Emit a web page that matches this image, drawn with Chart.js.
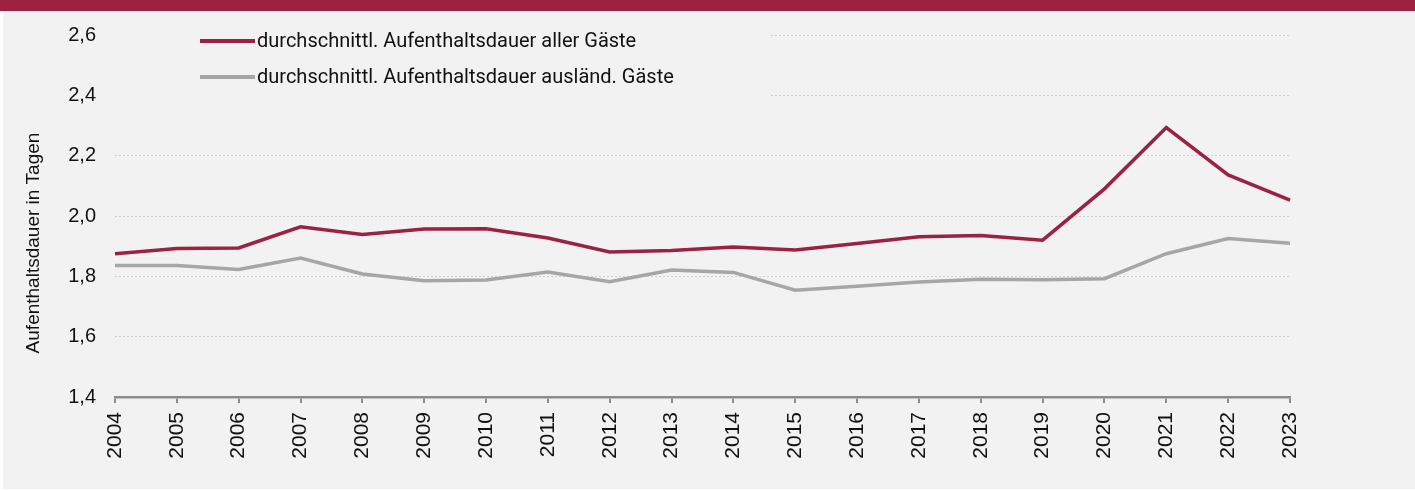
<!DOCTYPE html>
<html>
<head>
<meta charset="utf-8">
<script src="https://cdn.jsdelivr.net/npm/chart.js@4.4.1/dist/chart.umd.min.js"></script>
<style>
html,body{margin:0;padding:0;background:#fff;}
canvas{display:block;}
</style>
</head>
<body>
<canvas id="c" width="1415" height="490"></canvas>
<script>
const years = ['2004','2005','2006','2007','2008','2009','2010','2011','2012','2013','2014','2015','2016','2017','2018','2019','2020','2021','2022','2023'];
const allGuests = [1.875,1.892,1.894,1.964,1.939,1.957,1.958,1.927,1.881,1.886,1.897,1.887,1.909,1.931,1.935,1.920,2.090,2.293,2.136,2.053];
const foreignGuests = [1.836,1.836,1.823,1.861,1.808,1.785,1.788,1.814,1.782,1.821,1.813,1.754,1.767,1.781,1.790,1.789,1.792,1.875,1.925,1.910];
const seriesLabels = ['durchschnittl. Aufenthaltsdauer aller Gäste','durchschnittl. Aufenthaltsdauer ausländ. Gäste'];
const yTickLabels = ['1,4','1,6','1,8','2,0','2,2','2,4','2,6'];
const yTitle = 'Aufenthaltsdauer in Tagen';

const RED = '#9b2240';
const GRAY = '#a6a6a6';

const bgPlugin = {
  id: 'bg',
  beforeDraw(chart) {
    const ctx = chart.ctx;
    ctx.save();
    ctx.fillStyle = '#ffffff';
    ctx.fillRect(0, 0, chart.width, chart.height);
    ctx.fillStyle = '#f2f2f2';
    ctx.fillRect(3, 11, chart.width - 3, 478);
    ctx.fillStyle = RED;
    ctx.fillRect(0, 0, chart.width, 11);
    ctx.restore();
  }
};

const legendPlugin = {
  id: 'insideLegend',
  beforeDatasetsDraw(chart) {
    const ctx = chart.ctx;
    ctx.save();
    ctx.fillStyle = '#f2f2f2';
    ctx.fillRect(chart.chartArea.left - 2, 20, 770 - chart.chartArea.left + 2, 86);
    const rows = [41, 77];
    chart.data.datasets.forEach((ds, i) => {
      const y = rows[i];
      ctx.strokeStyle = ds.borderColor;
      ctx.lineWidth = 4;
      ctx.lineCap = 'butt';
      ctx.beginPath();
      ctx.moveTo(200, y);
      ctx.lineTo(255, y);
      ctx.stroke();
      ctx.fillStyle = '#111111';
      ctx.font = '20px Roboto';
      ctx.textBaseline = 'middle';
      ctx.textAlign = 'left';
      ctx.fillText(ds.label, 257, y + 1);
    });
    ctx.restore();
  },
  afterDraw(chart) {
    const ctx = chart.ctx;
    ctx.save();
    ctx.translate(34, 243);
    ctx.rotate(-Math.PI / 2);
    ctx.fillStyle = '#111111';
    ctx.font = '19px "Liberation Sans"';
    ctx.textAlign = 'center';
    ctx.textBaseline = 'middle';
    ctx.fillText(yTitle, 0, 0);
    ctx.restore();
  }
};

new Chart(document.getElementById('c'), {
  type: 'line',
  data: {
    labels: years,
    datasets: [
      { label: seriesLabels[0], data: allGuests, borderColor: RED, borderWidth: 3.5, pointRadius: 0, tension: 0, fill: false },
      { label: seriesLabels[1], data: foreignGuests, borderColor: GRAY, borderWidth: 3.5, pointRadius: 0, tension: 0, fill: false }
    ]
  },
  options: {
    responsive: false,
    animation: false,
    devicePixelRatio: 1,
    layout: { padding: { top: 35, right: 125, bottom: 0, left: 0 } },
    plugins: { legend: { display: false }, tooltip: { enabled: false }, title: { display: false } },
    scales: {
      x: {
        type: 'category',
        offset: false,
        afterFit(scale) { scale.height = 93; },
        grid: { drawOnChartArea: false, drawTicks: true, tickLength: 6, color: '#8c8c8c', lineWidth: 2 },
        border: { display: true, color: '#8c8c8c', width: 2.5 },
        ticks: { autoSkip: false, maxRotation: 90, minRotation: 90, padding: 9, color: '#111111', font: { family: 'Liberation Sans', size: 21 } }
      },
      y: {
        min: 1.4,
        max: 2.6,
        afterFit(scale) { scale.width = 115; },
        grid: { drawTicks: false, color: '#d0d0d0', lineWidth: 1 },
        border: { display: false, dash: [2, 2] },
        ticks: {
          stepSize: 0.2,
          padding: 19,
          color: '#111111',
          font: { family: 'Liberation Sans', size: 20 },
          callback: (v, i) => yTickLabels[i]
        }
      }
    }
  },
  plugins: [bgPlugin, legendPlugin]
});
</script>
</body>
</html>
